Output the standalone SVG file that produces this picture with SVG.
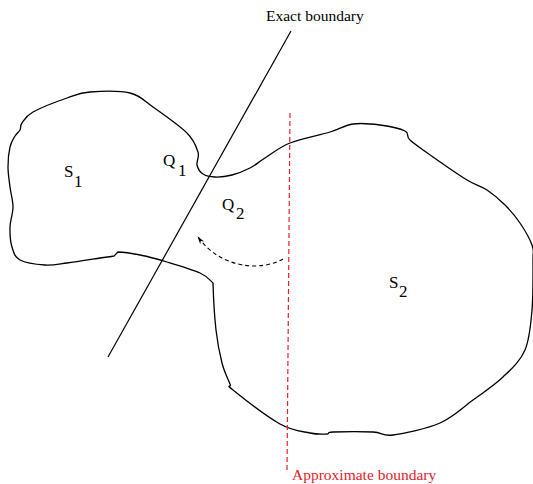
<svg xmlns="http://www.w3.org/2000/svg" width="533" height="484" viewBox="0 0 533 484">
<style>
.outline{fill:none;stroke:#000;stroke-width:1.3;stroke-linejoin:round}
.lbl{font-family:"Liberation Serif","Times New Roman",serif;font-size:17px;fill:#000}
.sub{font-family:"Liberation Serif","Times New Roman",serif;font-size:17px;fill:#000}
.cap{font-family:"Liberation Serif","Times New Roman",serif;font-size:15.5px}
</style>
<defs>
<marker id="ah" viewBox="0 0 10 6" refX="9" refY="3" markerWidth="8" markerHeight="5" orient="auto" markerUnits="userSpaceOnUse">
<path d="M0,0 L10,3 L0,6 L3,3 Z" fill="#000"/>
</marker>
</defs>
<rect width="533" height="484" fill="#fff"/>
<g id="region">
<path class="outline" d="M 22 123 C 24.2 120 25.5 116.2 33 112 S 57.5 101.3 67 98 S 79.5 92.8 90 92 S 119.5 90.5 130 93 S 143.5 100.3 153 107 S 179.5 125.5 187 133 S 196.3 146.7 198 152 S 196.2 161.3 197 165 S 200 172 203 174 S 210.2 176.8 215 177 S 226.2 176.5 232 175 S 244.5 170.8 250 168 S 258.3 162.2 265 158 S 279.2 147.3 290 143 S 319.5 135.2 330 132 S 344.7 125.2 353 124 S 371.3 123.8 380 125 S 400 128.5 405 131 S 405.3 135.7 410 140 S 423.5 150.3 433 157 S 458 174.5 467 180 S 480.7 185.8 487 190 S 499.5 199.5 505 205 S 515.5 216.3 520 223 S 529.8 238.8 532 245 S 533 249.2 533 260 S 533.3 295 532 310 S 529.8 338.8 525 350 S 511.7 368.7 503 377 S 483.5 392.3 473 400 S 453.3 417.2 440 423 S 404.2 433.5 393 435 S 383 432.5 373 432 S 340.7 431.7 333 432 S 330.8 433.8 327 434 S 317.8 434.7 310 433 S 292.8 431.2 280 424 S 241.3 396.7 233 390 S 231.8 388.5 230 384 S 224.3 372 222 363 S 217.5 343.3 216 330 C 214.5 316.7 213.5 300 213 283 C 210 280 207.7 276.5 200 273 S 177 265 167 262 S 148.2 256.7 140 255 C 131.8 253.3 123 252 118 252 L 114 256 C 110 257 107.8 256.8 100 258 S 76.2 261.8 67 263 S 52.8 265.5 45 265 S 25.5 263 20 260 S 13.7 252.5 12 247 S 9.8 233.7 10 227 S 13 213.7 13 207 S 10.8 193.7 10 187 S 8 173.7 8 167 S 8.8 152.2 10 147 S 13.3 138.8 15 136 S 18.8 132.2 20 130 S 19.8 126 22 123 Z"/>
</g>
<g id="exact-boundary">
<line x1="291" y1="31" x2="108" y2="357" stroke="#000" stroke-width="1.2"/>
<text class="cap" x="266" y="21" fill="#000">Exact boundary</text>
</g>
<g id="approximate-boundary">
<line x1="290" y1="113" x2="287" y2="472" stroke="#e8202a" stroke-width="1.2" stroke-dasharray="5,3"/>
<text class="cap" x="292" y="480" fill="#e8202a">Approximate boundary</text>
</g>
<g id="connectors">
<path d="M 283 259 C 260 272 220 268 198 237" fill="none" stroke="#000" stroke-width="1.1" stroke-dasharray="4,3" marker-end="url(#ah)"/>
</g>
<g id="S1"><text class="lbl" x="64" y="177">S</text><text class="sub" x="74" y="187">1</text></g>
<g id="Q1"><text class="lbl" x="163" y="166">Q</text><text class="sub" x="178" y="176">1</text></g>
<g id="Q2"><text class="lbl" x="222" y="210">Q</text><text class="sub" x="236" y="219">2</text></g>
<g id="S2"><text class="lbl" x="389" y="288">S</text><text class="sub" x="399" y="297">2</text></g>
</svg>
